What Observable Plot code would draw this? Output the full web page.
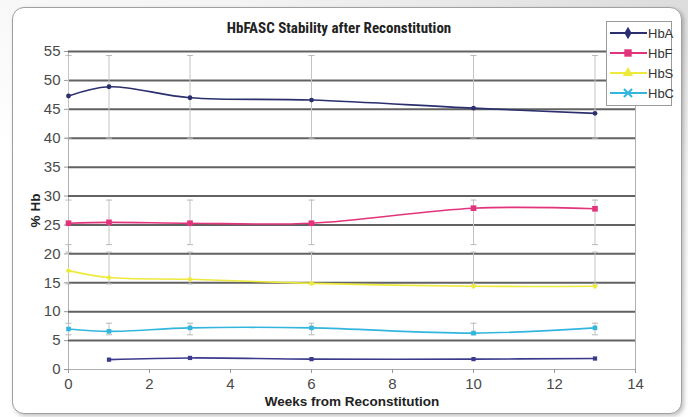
<!DOCTYPE html>
<html>
<head>
<meta charset="utf-8">
<script src="https://cdn.jsdelivr.net/npm/d3@7"></script>
<script src="https://cdn.jsdelivr.net/npm/@observablehq/plot@0.6"></script>
<style>
  html, body { margin: 0; padding: 0; background: #fff; }
  #wrap { position: relative; width: 688px; height: 417px; overflow: hidden;
    background: linear-gradient(200deg, #dcdcdc 0%, #f4f4f4 25%, #ffffff 60%); }
  #box { position: absolute; left: 12px; top: 7px; width: 670px; height: 407px;
    border: 1.5px solid #a0a0a0; border-radius: 12px; background: #fff;
    box-shadow: 2px 2px 4px rgba(0,0,0,0.25); box-sizing: border-box; }
  #chart { position: absolute; left: 0; top: 0; }
  #title { position: absolute; left: 0; width: 678px; top: 19px; text-align: center;
    font-family: "Liberation Sans Narrow", "Roboto Condensed", "Liberation Sans", sans-serif;
    font-weight: bold; font-size: 15px; color: #222; }
  #legend { position: absolute; left: 606px; top: 21px; width: 66px; height: 85px;
    border: 1px solid #9a9a9a; background: #fff; box-sizing: border-box;
    font-family: "Liberation Sans Narrow", "Liberation Sans", sans-serif; font-size: 13px; color: #333; }
  .row { position: absolute; left: 2px; height: 20px; display: flex; align-items: center; }
  .row svg { display: block; }
  .row span { margin-left: 1px; }
</style>
</head>
<body>
<div id="wrap">
  <div id="box"></div>
  <div id="chart"></div>
  <div id="title"></div>
  <div id="legend"></div>
</div>
<script>
// ---- data ----
const titleText = "HbFASC Stability after Reconstitution";
const weeks = [0, 1, 3, 6, 10, 13];
const hbA = [47.3, 48.9, 47.0, 46.6, 45.2, 44.3];
const hbF = [25.3, 25.45, 25.3, 25.3, 27.9, 27.8];
const hbS = [17.1, 15.9, 15.6, 14.9, 14.4, 14.4];
const hbC = [7.0, 6.6, 7.2, 7.2, 6.3, 7.2];
const lowWeeks = [1, 3, 6, 10, 13];
const lowSeries = [1.7, 2.0, 1.8, 1.8, 1.9];
const seriesNames = ["HbA", "HbF", "HbS", "HbC"];
const seriesColors = ["#2b2f6e", "#e2347c", "#eeea3c", "#33b6de"];
const lowColor = "#3b3a8c";
const rangeLow = [40, 21.6, 14.8, 6.0];
const rangeHigh = [54.3, 29.3, 20.3, 8.0];
const xTicks = [0, 2, 4, 6, 8, 10, 12, 14];
const yTicks = [0, 5, 10, 15, 20, 25, 30, 35, 40, 45, 50, 55];

const seriesValues = [hbA, hbF, hbS, hbC];
const rows = [];
seriesNames.forEach((s, i) => weeks.forEach((w, j) => rows.push({series: s, week: w, value: seriesValues[i][j]})));
const lowRows = lowWeeks.map((w, j) => ({week: w, value: lowSeries[j]}));
const errRows = [];
seriesNames.forEach((s, i) => weeks.forEach(w => errRows.push({series: s, week: w, lo: rangeLow[i], hi: rangeHigh[i]})));

const capSymbol = {draw(ctx, size) { const w = Math.sqrt(size / Math.PI); ctx.moveTo(-w, 0); ctx.lineTo(w, 0); }};
const font = "'Liberation Sans Narrow', 'Liberation Sans', sans-serif";

const colorOf = s => seriesColors[seriesNames.indexOf(s)];
const markerSymbols = {HbA: "circle", HbF: "square", HbS: "diamond2", HbC: "square"};
const markerR = {HbA: 2.4, HbF: 3.2, HbS: 2.6, HbC: 2.6};

const marks = [
  Plot.frame({stroke: "#b0b0b0"}),
  Plot.gridY(yTicks.filter(v => v > 0), {stroke: "#626262", strokeOpacity: 1, strokeWidth: 2}),
  Plot.ruleX(errRows, {x: "week", y1: "lo", y2: "hi", stroke: "#c4c4c4", strokeWidth: 1}),
  Plot.dot(errRows, {x: "week", y: "lo", symbol: capSymbol, r: 3, stroke: "#b8b8b8", fill: "none", strokeWidth: 1}),
  Plot.dot(errRows, {x: "week", y: "hi", symbol: capSymbol, r: 3, stroke: "#b8b8b8", fill: "none", strokeWidth: 1}),
  Plot.axisY({ticks: yTicks, tickSize: 4, tickPadding: 4, stroke: "#999", fill: "#4a4a4a",
    label: "% Hb", labelAnchor: "center", labelArrow: "none", labelOffset: 38}),
  Plot.axisX({ticks: xTicks, tickSize: 4, tickPadding: 5, stroke: "#999", fill: "#4a4a4a",
    label: "Weeks from Reconstitution", labelAnchor: "center", labelArrow: "none", labelOffset: 36})
];
seriesNames.forEach(s => {
  const data = rows.filter(r => r.series === s);
  marks.push(Plot.line(data, {x: "week", y: "value", stroke: colorOf(s), strokeWidth: 1.6, curve: "catmull-rom"}));
  marks.push(Plot.dot(data, {x: "week", y: "value", symbol: markerSymbols[s], r: markerR[s], fill: colorOf(s), stroke: "none"}));
});
marks.push(Plot.line(lowRows, {x: "week", y: "value", stroke: lowColor, strokeWidth: 1.6, curve: "catmull-rom"}));
marks.push(Plot.dot(lowRows, {x: "week", y: "value", symbol: "square", r: 2.4, fill: lowColor}));

const chart = Plot.plot({
  width: 688, height: 417,
  marginLeft: 68, marginRight: 53, marginTop: 51, marginBottom: 48,
  x: {domain: [0, 14]},
  y: {domain: [0, 55]},
  style: {fontFamily: font, fontSize: "15px", background: "transparent", overflow: "visible"},
  marks
});
document.getElementById("chart").appendChild(chart);

// style axis labels bold
d3.select(chart).selectAll("g[aria-label='x-axis label'] text, g[aria-label='y-axis label'] text")
  .style("font-weight", "bold").style("font-size", "13.5px").style("fill", "#222");

document.getElementById("title").textContent = titleText;

// legend
const legend = d3.select("#legend");
const legendSymbols = {HbA: d3.symbolDiamond, HbF: d3.symbolSquare, HbS: d3.symbolTriangle, HbC: d3.symbolTimes};
seriesNames.forEach((s, i) => {
  const row = legend.append("div").attr("class", "row").style("top", (1 + i * 20) + "px");
  const svg = row.append("svg").attr("width", 38).attr("height", 20);
  svg.append("line").attr("x1", 1).attr("x2", 38).attr("y1", 10).attr("y2", 10).attr("stroke", seriesColors[i]).attr("stroke-width", 1.8);
  const sym = svg.append("path").attr("transform", "translate(19,10)")
    .attr("d", d3.symbol(legendSymbols[s], s === "HbF" ? 55 : 45)());
  if (s === "HbC") sym.attr("stroke", seriesColors[i]).attr("stroke-width", 2).attr("fill", "none");
  else sym.attr("fill", seriesColors[i]);
  row.append("span").text(s);
});
</script>
</body>
</html>
